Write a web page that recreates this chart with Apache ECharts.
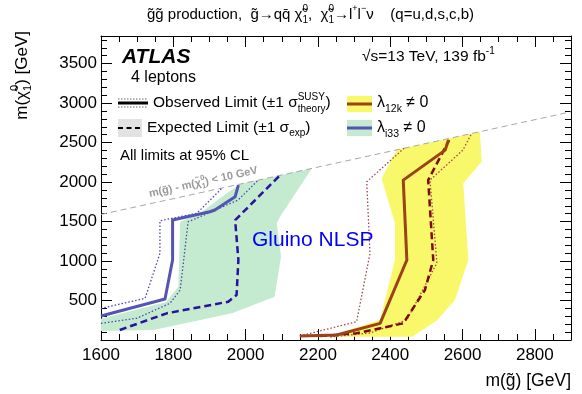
<!DOCTYPE html>
<html>
<head>
<meta charset="utf-8">
<script src="https://cdn.jsdelivr.net/npm/echarts@6/dist/echarts.min.js"></script>
<style>
  html, body { margin: 0; padding: 0; background: #fff; }
  #chart { width: 582px; height: 394px; }
</style>
</head>
<body>
<div id="chart"></div>
<script>
// ---- axis ranges and ticks ----
const xRange = [1600, 2900];
const yRange = [0, 3850];
const xStep = 200;
const yStep = 500;

// ---- lambda_i33 (blue / green) contours: [m(gluino), m(neutralino)] ----
const obsI33 = [[1600, 304], [1777, 519], [1798, 1013], [1798, 1519], [1901, 1624], [1915, 1646], [1971, 1814], [1980, 1962]];
const obsI33Up = [[1600, 400], [1722, 528], [1763, 1097], [1763, 1510], [1865, 1604], [1934, 1920]];
const obsI33Down = [[1600, 211], [1699, 275], [1791, 465], [1819, 633], [1841, 1497], [1874, 1561], [1979, 1772], [2035, 2025]];
const expI33 = [[1652, 127], [1782, 338], [1952, 485], [1975, 570], [1980, 1013], [1971, 1519], [1985, 1582], [2095, 2085]];
const expI33Band = [[1600, 270], [1780, 480], [1814, 675], [1819, 1497], [1874, 1604], [1948, 1857], [1985, 1975], [2183, 2173],
  [2095, 1561], [2086, 1477], [2098, 1054], [2080, 548], [1962, 338], [1745, 127], [1600, 114]];

// ---- lambda_12k (brown / yellow) contours ----
const obs12k = [[2150, 51], [2252, 63], [2372, 211], [2446, 1013], [2436, 2025], [2552, 2405], [2561, 2532]];
const obs12kUp = [[2150, 51], [2307, 232], [2344, 1097], [2335, 2004], [2438, 2428]];
const obs12kDown = [[2234, 38], [2344, 89], [2446, 253], [2529, 975], [2510, 2025], [2601, 2405], [2625, 2615]];
const exp12k = [[2206, 51], [2307, 85], [2436, 211], [2496, 633], [2519, 1013], [2505, 2025], [2563, 2532]];
const exp12kBand = [[2418, 2408], [2376, 2046], [2413, 1477], [2413, 1013], [2390, 591], [2372, 253], [2242, 63], [2200, 40],
  [2460, 40], [2530, 250], [2579, 506], [2616, 1013], [2602, 1984], [2653, 2257], [2648, 2638]];

// ---- kinematic boundary m(gluino) - m(neutralino) = 10 GeV ----
const diagonal = [[1600, 1590], [2900, 2890]];

// ---- colours ----
const C = {
  green: '#c4ead0', yellow: '#f8f86a',
  blueObs: '#5454b4', blueExp: '#2a139a', blueDot: '#4848ac',
  redObs: '#9c4218', redExp: '#7d0a0a', redDot: '#a04848',
  grey: '#a8a8a8'
};
const FONT = '"Liberation Sans", Arial, Helvetica, sans-serif';

// ---- text helpers (super/subscripts placed side by side) ----
const mctx = document.createElement('canvas').getContext('2d');
function tw(t, s, weight, style) {
  mctx.font = (style || 'normal') + ' ' + (weight || 'normal') + ' ' + s + 'px ' + FONT;
  return mctx.measureText(t).width;
}
function txt(x, y, t, s, fill, weight, style) {
  return {
    type: 'text', x: x, y: y, silent: true, z: 100,
    style: { text: t, fill: fill || '#000', font: (style || 'normal') + ' ' + (weight || 'normal') + ' ' + s + 'px ' + FONT,
             textAlign: 'left', textVerticalAlign: 'middle' }
  };
}
// parts: {t, s, dy} or {stack:[{t,s,dy},...]}
function richGroup(x, y, parts, opts) {
  opts = opts || {};
  const fill = opts.fill || '#000';
  let cx = 0;
  const kids = [];
  parts.forEach(p => {
    const items = p.stack ? p.stack : [p];
    let maxW = 0;
    items.forEach(it => {
      kids.push(txt(cx, it.dy || 0, it.t, it.s, fill, it.w || opts.weight, opts.style));
      maxW = Math.max(maxW, tw(it.t, it.s, it.w || opts.weight, opts.style));
    });
    cx += maxW;
  });
  if (opts.alignEnd) kids.forEach(k => { k.x -= cx; });
  return { type: 'group', x: x, y: y, z: 100, rotation: opts.rotation || 0, children: kids, silent: true };
}

// ---- series builders ----
function band(points, color) {
  return {
    type: 'custom', xAxisIndex: 0, yAxisIndex: 0, silent: true, z: 1,
    data: points,
    renderItem: function (params, api) {
      if (params.dataIndex !== 0) return null;
      const pts = points.map(p => api.coord(p));
      return { type: 'polygon', shape: { points: pts }, style: { fill: color } };
    }
  };
}
function curve(points, color, width, type, z) {
  return {
    type: 'line', xAxisIndex: 0, yAxisIndex: 0, data: points, symbol: 'none', silent: true,
    z: z || 3, animation: false,
    lineStyle: { color: color, width: width, type: type || 'solid', join: 'round', cap: 'butt' }
  };
}

const lineBlack = { color: '#000', width: 1 };
const plain = v => String(v);
function xAxisDef(pos, labels) {
  return {
    type: 'value', position: pos, min: xRange[0], max: xRange[1], interval: xStep,
    axisLine: { show: true, onZero: false, lineStyle: lineBlack },
    axisTick: { show: true, inside: true, length: 11, lineStyle: lineBlack },
    minorTick: { show: true, splitNumber: 4, length: 6, lineStyle: lineBlack },
    splitLine: { show: false }, minorSplitLine: { show: false },
    axisLabel: { show: labels, formatter: plain, color: '#000', fontSize: 17, fontFamily: FONT, margin: 7, showMaxLabel: false }
  };
}
function yAxisDef(pos, labels) {
  return {
    type: 'value', position: pos, min: yRange[0], max: yRange[1], interval: yStep,
    axisLine: { show: true, onZero: false, lineStyle: lineBlack },
    axisTick: { show: true, inside: true, length: 11, lineStyle: lineBlack },
    minorTick: { show: true, splitNumber: 5, length: 6, lineStyle: lineBlack },
    splitLine: { show: false }, minorSplitLine: { show: false },
    axisLabel: { show: labels, formatter: plain, color: '#000', fontSize: 17, fontFamily: FONT, margin: 4, showMaxLabel: false, showMinLabel: false }
  };
}

// ---- annotations ----
const sup = -6, sub = 5;
const graphics = [
  // title
  richGroup(147, 15, [
    { t: 'g\u0303g\u0303 production,  g\u0303\u2192qq\u0304 \u03C7\u0303', s: 15 },
    { stack: [{ t: '0', s: 10, dy: sup }, { t: '1', s: 10, dy: sub }] },
    { t: ',  \u03C7\u0303', s: 15 },
    { stack: [{ t: '0', s: 10, dy: sup }, { t: '1', s: 10, dy: sub }] },
    { t: '\u2192l', s: 15 }, { t: '+', s: 9, dy: sup },
    { t: 'l', s: 15 }, { t: '\u2212', s: 9, dy: sup },
    { t: '\u03BD    (q=u,d,s,c,b)', s: 15 }
  ]),
  // y axis title
  richGroup(22, 31, [
    { t: 'm(\u03C7\u0303', s: 17 },
    { stack: [{ t: '0', s: 11, dy: -7 }, { t: '1', s: 11, dy: 6 }] },
    { t: ') [GeV]', s: 17 }
  ], { rotation: Math.PI / 2, alignEnd: true }),
  // x axis title
  richGroup(571, 381, [{ t: 'm(g\u0303) [GeV]', s: 17.5 }], { alignEnd: true }),
  // ATLAS label
  txt(122, 57, 'ATLAS', 21, '#000', 'bold', 'italic'),
  txt(131, 78, '4 leptons', 16),
  richGroup(362, 57, [{ t: '\u221As=13 TeV, 139 fb', s: 15.5 }, { t: '-1', s: 10, dy: -6 }]),
  // legend: observed
  { type: 'line', z: 100, shape: { x1: 118, y1: 99, x2: 148, y2: 99 }, style: { stroke: '#666', lineWidth: 1, lineDash: [1.5, 1.5] }, silent: true },
  { type: 'line', z: 100, shape: { x1: 118, y1: 107, x2: 148, y2: 107 }, style: { stroke: '#666', lineWidth: 1, lineDash: [1.5, 1.5] }, silent: true },
  { type: 'line', z: 100, shape: { x1: 118, y1: 103, x2: 148, y2: 103 }, style: { stroke: '#000', lineWidth: 3 }, silent: true },
  richGroup(153, 103, [
    { t: 'Observed Limit (\u00B11 \u03C3', s: 15.5 },
    { stack: [{ t: 'SUSY', s: 10, dy: -6 }, { t: 'theory', s: 10, dy: 6 }] },
    { t: ')', s: 15.5 }
  ]),
  // legend: expected
  { type: 'rect', z: 100, shape: { x: 118, y: 119, width: 24, height: 18 }, style: { fill: '#e2e2e2' }, silent: true },
  { type: 'line', z: 100, shape: { x1: 118, y1: 128, x2: 142, y2: 128 }, style: { stroke: '#000', lineWidth: 2.2, lineDash: [5, 3.5] }, silent: true },
  richGroup(147, 128, [
    { t: 'Expected Limit (\u00B11 \u03C3', s: 15.5 },
    { t: 'exp', s: 10, dy: 5 },
    { t: ')', s: 15.5 }
  ]),
  txt(120, 156, 'All limits at 95% CL', 15),
  // legend: lambda_12k
  { type: 'rect', z: 100, shape: { x: 347, y: 96, width: 25, height: 16 }, style: { fill: C.yellow }, silent: true },
  { type: 'line', z: 100, shape: { x1: 347, y1: 104, x2: 372, y2: 104 }, style: { stroke: C.redObs, lineWidth: 3 }, silent: true },
  richGroup(377, 103, [{ t: '\u03BB', s: 16 }, { t: '12k', s: 10.5, dy: 6 }, { t: ' \u2260 0', s: 16 }]),
  // legend: lambda_i33
  { type: 'rect', z: 100, shape: { x: 347, y: 120, width: 25, height: 16 }, style: { fill: C.green }, silent: true },
  { type: 'line', z: 100, shape: { x1: 347, y1: 128, x2: 372, y2: 128 }, style: { stroke: C.blueObs, lineWidth: 3 }, silent: true },
  richGroup(377, 128, [{ t: '\u03BB', s: 16 }, { t: 'i33', s: 10.5, dy: 6 }, { t: ' \u2260 0', s: 16 }]),
  // region label
  txt(252, 240, 'Gluino NLSP', 21, '#0000ff'),
  // kinematic boundary label
  richGroup(149, 194, [
    { t: 'm(g\u0303) - m(\u03C7\u0303', s: 11 },
    { stack: [{ t: '0', s: 7.5, dy: -4.5 }, { t: '1', s: 7.5, dy: 4 }] },
    { t: ') < 10 GeV', s: 11 }
  ], { fill: '#9a9a9a', rotation: 12.3 * Math.PI / 180, weight: 'bold' })
];

const option = {
  animation: false,
  backgroundColor: '#fff',
  grid: { left: 101, right: 11, top: 36, bottom: 54 },
  xAxis: [xAxisDef('bottom', true), xAxisDef('top', false)],
  yAxis: [yAxisDef('left', true), yAxisDef('right', false)],
  series: [
    band(expI33Band, C.green),
    band(exp12kBand, C.yellow),
    curve(diagonal, C.grey, 1, [6, 4], 2),
    curve(obsI33Up, C.blueDot, 1.3, [1.5, 2]),
    curve(obsI33Down, C.blueDot, 1.3, [1.5, 2]),
    curve(expI33, C.blueExp, 2.5, [7, 4]),
    curve(obsI33, C.blueObs, 3),
    curve(obs12kUp, C.redDot, 1.3, [1.5, 2]),
    curve(obs12kDown, C.redDot, 1.3, [1.5, 2]),
    curve(exp12k, C.redExp, 2.5, [7, 4]),
    curve(obs12k, C.redObs, 3)
  ],
  graphic: { elements: graphics }
};

const chart = echarts.init(document.getElementById('chart'), null, { renderer: 'canvas' });
chart.setOption(option);
</script>
</body>
</html>
